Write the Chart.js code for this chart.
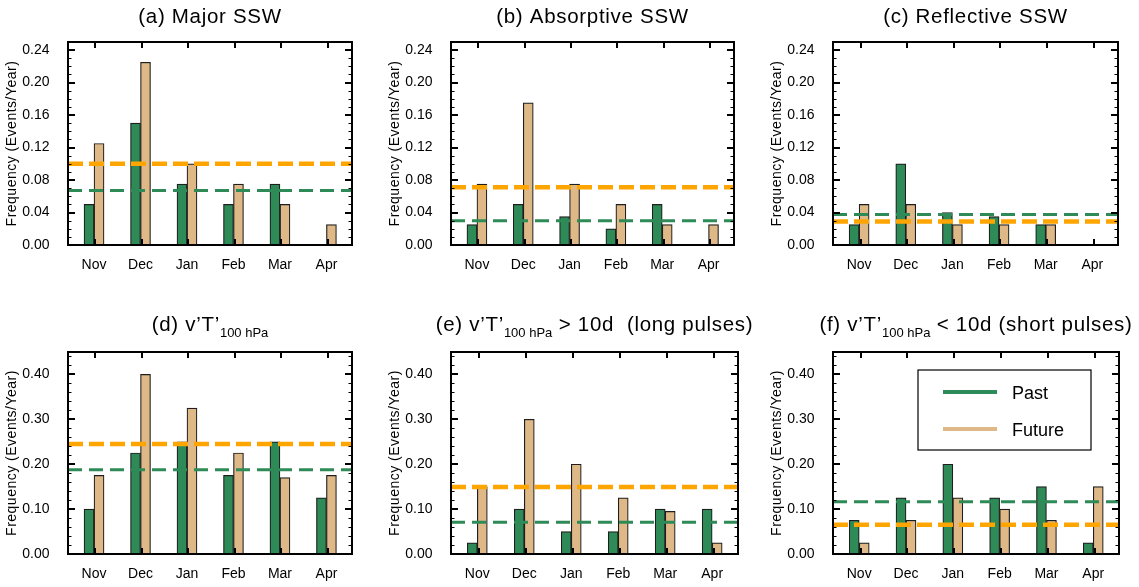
<!DOCTYPE html>
<html>
<head>
<meta charset="utf-8">
<script src="https://cdn.jsdelivr.net/npm/chart.js@4.4.0/dist/chart.umd.min.js"></script>
<style>
  body { margin: 0; background: #fff; }
  #wrap { position: relative; width: 1139px; height: 587px; overflow: hidden; }
  #wrap canvas { position: absolute; }
</style>
</head>
<body>
<div id="wrap"></div>
<script>
const months = ['Nov', 'Dec', 'Jan', 'Feb', 'Mar', 'Apr'];

// "_{...}" is drawn as a subscript
const titles = [
  '(a) Major SSW',
  '(b) Absorptive SSW',
  '(c) Reflective SSW',
  '(d) v’T’_{100 hPa}',
  '(e) v’T’_{100 hPa} > 10d  (long pulses)',
  '(f) v’T’_{100 hPa} < 10d (short pulses)'
];

// events per year for each month, one row per panel
const pastFreq = [
  [0.05, 0.15, 0.075, 0.05, 0.075, 0],
  [0.025, 0.05, 0.035, 0.02, 0.05, 0],
  [0.025, 0.10, 0.04, 0.035, 0.025, 0],
  [0.10, 0.225, 0.25, 0.175, 0.25, 0.125],
  [0.025, 0.10, 0.05, 0.05, 0.10, 0.10],
  [0.075, 0.125, 0.20, 0.125, 0.15, 0.025]
];
const futureFreq = [
  [0.125, 0.225, 0.10, 0.075, 0.05, 0.025],
  [0.075, 0.175, 0.075, 0.05, 0.025, 0.025],
  [0.05, 0.05, 0.025, 0.025, 0.025, 0],
  [0.175, 0.40, 0.325, 0.225, 0.17, 0.175],
  [0.15, 0.30, 0.20, 0.125, 0.095, 0.025],
  [0.025, 0.075, 0.125, 0.10, 0.075, 0.15]
];

// seasonal mean (dashed lines)
const pastMean = [0.067, 0.030, 0.0375, 0.1875, 0.071, 0.1165];
const futureMean = [0.100, 0.071, 0.029, 0.245, 0.149, 0.065];

// y axes: top row / bottom row
const yMax = [0.25, 0.45];
const yStep = [0.04, 0.10];
const yMinor = [0.01, 0.02];

const legendLabels = ['Past', 'Future'];

const FONT = '"Liberation Sans", Arial, Helvetica, sans-serif';
const GREEN = '#2E8B57';
const TAN = '#DEB887';
const ORANGE = '#FFA500';
const EDGE = '#1e1e1e';
const xMin = -0.56, xMax = 5.55;

// plot frames on the page
const boxes = [
  { x: 68,  y: 42,  w: 284, h: 203 },
  { x: 451, y: 42,  w: 283, h: 203 },
  { x: 833, y: 42,  w: 285, h: 203 },
  { x: 68,  y: 352, w: 284, h: 202 },
  { x: 451, y: 352, w: 287, h: 202 },
  { x: 833, y: 352, w: 286, h: 202 }
];

function titleParts(str) {
  const parts = [];
  const re = /_\{([^}]*)\}/g;
  let last = 0, m;
  while ((m = re.exec(str))) {
    if (m.index > last) parts.push({ text: str.slice(last, m.index), sub: false });
    parts.push({ text: m[1], sub: true });
    last = re.lastIndex;
  }
  if (last < str.length) parts.push({ text: str.slice(last), sub: false });
  return parts;
}

// frame, inward tick marks, titles and the legend
const panelDecor = {
  id: 'panelDecor',
  afterDatasetsDraw(chart, args, opts) {
    const { ctx, chartArea: a, scales: { x, y } } = chart;
    ctx.save();
    ctx.strokeStyle = '#000';

    // minor y ticks, both sides
    ctx.lineWidth = 1;
    const n = Math.round(y.max / opts.minor);
    ctx.beginPath();
    for (let i = 1; i < n; i++) {
      const py = Math.round(y.getPixelForValue(i * opts.minor)) + 0.5;
      ctx.moveTo(a.left, py); ctx.lineTo(a.left + 3.5, py);
      ctx.moveTo(a.right, py); ctx.lineTo(a.right - 3.5, py);
    }
    ctx.stroke();

    // major y ticks
    ctx.lineWidth = 2;
    ctx.beginPath();
    y.ticks.forEach(t => {
      const py = Math.round(y.getPixelForValue(t.value));
      ctx.moveTo(a.left, py); ctx.lineTo(a.left + 7, py);
      ctx.moveTo(a.right, py); ctx.lineTo(a.right - 7, py);
    });
    // month ticks, top and bottom
    x.ticks.forEach(t => {
      const px = Math.round(x.getPixelForValue(t.value + 0.03));
      ctx.moveTo(px, a.bottom); ctx.lineTo(px, a.bottom - 6);
      ctx.moveTo(px, a.top); ctx.lineTo(px, a.top + 6);
    });
    ctx.stroke();

    ctx.lineWidth = 2;
    ctx.strokeRect(a.left, a.top, a.right - a.left, a.bottom - a.top);

    // panel title
    ctx.fillStyle = '#000';
    ctx.textBaseline = 'alphabetic';
    ctx.textAlign = 'left';
    const parts = titleParts(opts.title).map(pt => {
      const font = pt.sub ? '13px ' + FONT : '20.5px ' + FONT;
      const spacing = pt.sub ? '0px' : '0.7px';
      ctx.font = font;
      ctx.letterSpacing = spacing;
      return { ...pt, font, spacing, w: ctx.measureText(pt.text).width };
    });
    const total = parts.reduce((s, pt) => s + pt.w, 0);
    let tx = (a.left + a.right) / 2 - total / 2;
    const base = a.top - opts.titleGap;
    parts.forEach(pt => {
      ctx.font = pt.font;
      ctx.letterSpacing = pt.spacing;
      ctx.fillText(pt.text, tx, pt.sub ? base + 6 : base);
      tx += pt.w;
    });

    // y axis title
    ctx.save();
    ctx.translate(a.left - 52, (a.top + a.bottom) / 2);
    ctx.rotate(-Math.PI / 2);
    ctx.font = '14px ' + FONT;
    ctx.letterSpacing = '0.5px';
    ctx.textAlign = 'center';
    ctx.fillText('Frequency (Events/Year)', 0, 0);
    ctx.restore();
    ctx.letterSpacing = '0px';
    ctx.restore();
  },
  afterDraw(chart, args, opts) {
    if (!opts.legend) return;
    const { ctx, chartArea: a } = chart;
    const lx = a.left + 85, ly = a.top + 18;
    ctx.save();
    ctx.fillStyle = '#fff';
    ctx.fillRect(lx, ly, 173, 80);
    ctx.strokeStyle = '#000';
    ctx.lineWidth = 1.2;
    ctx.strokeRect(lx, ly, 173, 80);
    [GREEN, TAN].forEach((c, i) => {
      const yy = ly + 22 + i * 37;
      ctx.strokeStyle = c;
      ctx.lineWidth = 4;
      ctx.beginPath();
      ctx.moveTo(lx + 25, yy); ctx.lineTo(lx + 79, yy);
      ctx.stroke();
      ctx.fillStyle = '#000';
      ctx.font = '18px ' + FONT;
      ctx.textBaseline = 'alphabetic';
      ctx.fillText(legendLabels[i], lx + 94, yy + 7);
    });
    ctx.restore();
  }
};

const wrap = document.getElementById('wrap');
const padL = 70, padT = 44, padR = 22, padB = 40;

boxes.forEach((b, p) => {
  const row = p < 3 ? 0 : 1;
  const cv = document.createElement('canvas');
  cv.width = b.w + padL + padR;
  cv.height = b.h + padT + padB;
  cv.style.left = (b.x - padL) + 'px';
  cv.style.top = (b.y - padT) + 'px';
  wrap.appendChild(cv);

  new Chart(cv, {
    type: 'bar',
    data: {
      datasets: [
        {
          label: 'Past',
          data: months.map((m, i) => ({ x: i, y: pastFreq[p][i] })),
          backgroundColor: GREEN, borderColor: EDGE, borderWidth: 1.2, order: 2
        },
        {
          label: 'Future',
          data: months.map((m, i) => ({ x: i, y: futureFreq[p][i] })),
          backgroundColor: TAN, borderColor: EDGE, borderWidth: 1.2, order: 2
        },
        {
          type: 'line', label: 'Past mean',
          data: [{ x: xMin, y: pastMean[p] }, { x: xMax, y: pastMean[p] }],
          borderColor: GREEN, borderWidth: 3, borderDash: [14, 7],
          pointRadius: 0, order: 1
        },
        {
          type: 'line', label: 'Future mean',
          data: [{ x: xMin, y: futureMean[p] }, { x: xMax, y: futureMean[p] }],
          borderColor: ORANGE, borderWidth: 4.5, borderDash: [15, 6],
          pointRadius: 0, order: 0
        }
      ]
    },
    options: {
      responsive: false,
      animation: false,
      devicePixelRatio: 1,
      layout: { padding: { left: 0, top: padT, right: padR, bottom: 0 } },
      datasets: { bar: { barThickness: 10 } },
      plugins: {
        legend: { display: false },
        tooltip: { enabled: false },
        panelDecor: {
          title: titles[p],
          titleGap: row === 0 ? 19 : 21,
          minor: yMinor[row],
          legend: p === 5
        }
      },
      scales: {
        x: {
          type: 'linear', min: xMin, max: xMax, offset: false,
          grid: { display: false }, border: { display: false },
          ticks: {
            stepSize: 1, includeBounds: false, padding: 4, maxRotation: 0, autoSkip: false,
            color: '#000', font: { family: FONT, size: 14 },
            callback: v => months[Math.round(v)] ?? ''
          },
          afterFit: s => { s.height = padB; }
        },
        y: {
          type: 'linear', min: 0, max: yMax[row],
          grid: { display: false }, border: { display: false },
          ticks: {
            stepSize: yStep[row], includeBounds: false, padding: 10.5,
            color: '#000', font: { family: FONT, size: 14 },
            callback: v => v.toFixed(2)
          },
          afterFit: s => { s.width = padL; }
        }
      }
    },
    plugins: [panelDecor]
  });
});
</script>
</body>
</html>
